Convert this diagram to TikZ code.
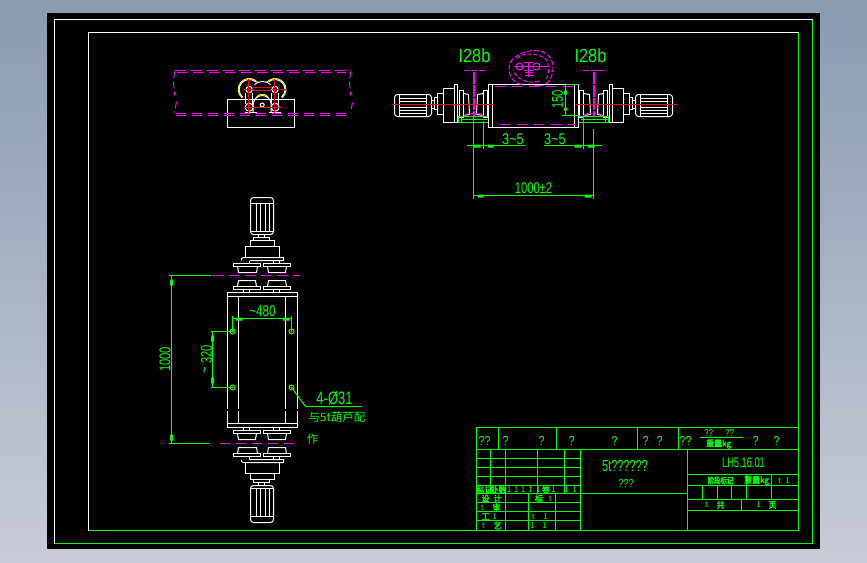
\documentclass[tikz,border=0pt]{standalone}
\usepackage{fontspec}
\setmainfont{Liberation Sans}
\newfontfamily\cjk{Noto Sans CJK SC}
\newfontfamily\cjkb[FakeBold=2.5]{Noto Sans CJK SC}
\definecolor{cadgreen}{RGB}{0,255,0}
\definecolor{cadmag}{RGB}{255,0,255}
\definecolor{cadbg}{RGB}{138,155,176}
\definecolor{cadbgb}{RGB}{200,204,216}
\tikzset{
  wl/.style={draw=white,line width=1pt},
  gl/.style={draw=cadgreen,line width=1pt},
  ml/.style={draw=cadmag,line width=1pt},
  md/.style={draw=cadmag,line width=1pt,dash pattern=on 10pt off 6pt},
  rl/.style={draw=red,line width=1pt},
  yl/.style={draw=yellow,line width=1pt},
  dimbar/.style={fill=cadgreen,draw=none},
  dimtext/.style={text=cadgreen,inner sep=0pt,font=\fontsize{15.5}{15.5}\selectfont,xscale=.72},
  tbtext/.style={text=cadgreen,inner sep=0pt,font=\fontsize{13}{13}\selectfont,xscale=.8},
  tiny/.style={text=cadgreen,inner sep=0pt,font=\cjkb\fontsize{8.5}{9}\selectfont,xscale=.95},
  pale/.style={text=cadgreen,inner sep=0pt,font=\cjk\fontsize{8}{9}\selectfont},
}
\newcommand{\motorplan}{%
  \draw[wl,rounded corners=3pt] (250,197) rectangle (273,234);
  \draw[wl] (250,203) -- (273,203) (250,231) -- (273,231);
  \foreach \xx in {256,260,265,269} \draw[wl] (\xx,203) -- (\xx,231);
  \draw[wl] (258,234) rectangle (264,237);
  \draw[wl] (253,237) rectangle (269,240);
  \draw[wl] (250,240) rectangle (274,246);
  \draw[wl] (245,246) rectangle (279,257);
  \draw[wl] (241,260) -- (241,258) -- (243,257) -- (283,257) -- (283,260) -- (249,260);
  \draw[wl] (249,260) -- (249,263) (273,260) -- (273,263) (279,260) -- (279,263);
  \draw[wl] (233,263) rectangle (260,266);
  \draw[wl] (263,263) rectangle (290,266);
  \draw[wl] (237,266) -- (238,272) -- (256,272) -- (257,266);
  \draw[wl] (267,266) -- (268,272) -- (285,272) -- (286,266);
  \draw[wl] (237,286) -- (238,280) -- (255,280) -- (256,286);
  \draw[wl] (267,286) -- (268,280) -- (285,280) -- (286,286);
  \draw[wl] (233,286) rectangle (260,289);
  \draw[wl] (263,286) rectangle (290,289);
  \draw[wl] (243,289) -- (243,292) (249,289) -- (249,292) (273,289) -- (273,292) (279,289) -- (279,292);
}
\newcommand{\sideunit}{%
  \draw[wl,rounded corners=3pt] (394,94) rectangle (431,116);
  \draw[wl] (399,94) -- (399,116) (426,94) -- (426,116);
  \foreach \yy in {98,101,104,107,110,113} \draw[wl] (399,\yy) -- (426,\yy);
  \draw[wl] (431,100) rectangle (434,108);
  \draw[wl] (434,97) rectangle (437,109);
  \draw[wl] (437,93) rectangle (443,114);
  \draw[wl] (443,88) rectangle (454,122);
  \draw[wl] (454,84) rectangle (457,122);
  \draw[wl] (459,90) rectangle (463,117);
  \draw[wl] (463,93) -- (468,94) -- (469,114) -- (463,115);
  \draw[wl] (483,93) -- (477,94) -- (476,114) -- (483,115);
  \draw[wl] (483,90) rectangle (487,117);
  \draw[ml,line width=2pt,dash pattern=on 12pt off 1pt] (473,71) -- (473,115);
  \draw[ml,dash pattern=on 6pt off 1pt on 6pt off 2pt] (463,70) -- (484,70);
  \draw[ml,dash pattern=on 3pt off 1pt] (463,116) -- (468,113) -- (479,113) -- (484,116) -- cycle;
  \draw[gl] (458,116) rectangle (488,122);
  \draw[gl] (460,119) -- (486,119);
  \draw[gl] (461,116) -- (461,122);
}
\begin{document}
\begin{tikzpicture}[x=1pt,y=-1pt]
\useasboundingbox (0,0) rectangle (867,562);
\shade[top color=cadbg,bottom color=cadbgb] (0,0) rectangle (867,562);
\fill[black] (47,13) rectangle (820,549);
\begin{scope}[shift={(.5,.5)}]
% sheet frames
\draw[wl] (54,543) -- (54,19) -- (812,19);
\draw[gl] (812,19) -- (812,543) -- (54,543);
\draw[wl] (88,530) -- (88,32) -- (798,32);
\draw[gl] (798,32) -- (798,530) -- (88,530);

% ---------- top-left end view ----------
\draw[wl] (227,99) rectangle (294,127);
\draw[md] (174,70) -- (345,70);
\draw[md] (176,72) -- (345,72);
\draw[md] (175,113) -- (345,113);
\draw[md] (175,115) -- (345,115);
\draw[ml,dash pattern=on 7pt off 3pt] (174,71) -- (173,82) -- (174,95);
\draw[ml,dash pattern=on 7pt off 3pt] (176,101) -- (174,112);
\draw[ml,dash pattern=on 7pt off 3pt] (350,71) -- (349,82) -- (350,95);
\draw[ml,dash pattern=on 7pt off 3pt] (352,102) -- (350,112);
% wheels
\draw[yl] (248.7,89) ++(130:11) arc (130:320:11);
\draw[wl] (248.7,89) ++(130:10) arc (130:310:10);
\draw[yl] (274.5,89) ++(50:11) arc (50:-140:11);
\draw[wl] (274.5,89) ++(50:10) arc (50:-130:10);
\draw[wl] (254,84) .. controls (258,80) and (266,80) .. (270,84);
\draw[wl] (248.7,89) circle (3.2);
\draw[wl] (274.5,89) circle (3.2);
\draw[wl] (245,92) -- (245,103) (252,92) -- (252,103) (271,92) -- (271,103) (278,92) -- (278,103);
\draw[wl] (248.7,106.7) circle (4);
\draw[wl] (274.7,106.7) circle (4);
\draw[wl] (244,112) -- (256,112) (268,112) -- (280,112);
\draw[wl] (252.7,112) -- (252.7,104) arc (180:360:9) -- (270.7,112);
\draw[yl] (256,96.5) arc (220:320:7.5);
\draw[wl] (261.7,104.5) circle (2);
\draw[rl] (248,78) -- (248,113) (274,78) -- (274,113);
\draw[rl] (243,89) -- (252,89) (271,89) -- (285,89) (252,87) -- (271,87) (252,90) -- (271,90) (243,107) -- (280,107);
\fill[red] (248,89) circle (1.6) (274,89) circle (1.6);

% ---------- top-right side view ----------
\sideunit
\begin{scope}[shift={(1066,0)},xscale=-1]
  \sideunit
\end{scope}
\draw[wl] (488,84) rectangle (578,127);
\draw[wl] (492,84) -- (492,127) (574,84) -- (574,127);
\draw[ml,dash pattern=on 10pt off 7pt] (494,86) -- (575,86);
\draw[ml,dash pattern=on 10pt off 7pt] (499,124) -- (574,124);
\draw[rl] (391,104) -- (492,104) (575,104) -- (676,104);
% section sketch on top of the box
\draw[ml,dash pattern=on 5pt off 2pt] (521,84) .. controls (505,80) and (505,60) .. (517,55) .. controls (530,47) and (548,48) .. (552,62) .. controls (554,72) and (550,80) .. (545,84);
\draw[ml,dash pattern=on 4pt off 2pt] (516,58) .. controls (522,52) and (535,52) .. (545,58) .. controls (549,64) and (549,72) .. (546,78);
\draw[ml,dash pattern=on 4pt off 2pt] (514,72) .. controls (518,80) and (530,84) .. (540,80);
\draw[ml] (519,66) circle (3.5) (536,66) circle (3.5);
\draw[ml] (513,66) -- (548,66);
\draw[ml] (523,62) -- (532,62) (523,70) -- (532,70) (528,62) -- (528,76) (524,72) -- (532,72) (524,75) -- (532,75);
\draw[ml] (533,85) -- (542,85);
% dimensions, side view
\draw[gl] (473,116) -- (473,198);
\draw[gl,line width=1.8pt] (483,120) -- (483,148);
\draw[gl] (593,128) -- (593,198);
\draw[gl] (583,115) -- (583,148);
\draw[gl] (466,145) -- (524,145);
\draw[gl] (543,145) -- (601,145);
\fill[dimbar] (473,144) rectangle (480,147) (487,144) rectangle (493,147) (574,144) rectangle (581,147) (587,144) rectangle (594,147);
\draw[gl] (473,195) -- (593,195);
\fill[dimbar] (477,194) rectangle (483,197) (584,194) rectangle (591,197);
\node[dimtext,xscale=1.14] (t35a) at (512.5,138.5) {3\textasciitilde5};
\node[dimtext,xscale=1.14] (t35b) at (554.5,138.5) {3\textasciitilde5};
\node[dimtext] (t1000) at (533,188) {1000±2};
\node[dimtext,font=\fontsize{19}{19}\selectfont,xscale=1.19] (tia) at (474,55) {I28b};
\node[dimtext,font=\fontsize{19}{19}\selectfont,xscale=1.19] (tib) at (590,55) {I28b};
\draw[gl] (565,84) -- (578,84);
\draw[gl] (561,115) -- (578,115);
\draw[gl] (565,84) -- (565,115);
\fill[dimbar] (563.5,90) rectangle (566.5,94) (563.5,107) rectangle (566.5,110);
\node[rotate=90,dimtext] (t150) at (557,99) {150};

% ---------- lower-left plan view ----------
\motorplan
\begin{scope}[shift={(0,719)},yscale=-1]
  \motorplan
\end{scope}
\draw[wl] (227,408) -- (227,292) -- (297,292) -- (297,408);
\draw[wl] (227,296) -- (297,296);
\draw[wl] (238,296) -- (238,408) (285,296) -- (285,408);
\draw[wl] (227,410) -- (227,427) -- (297,427) -- (297,410);
\draw[wl] (227,423) -- (297,423);
\draw[wl] (238,410) -- (238,423) (285,410) -- (285,423);
\draw[ml,dash pattern=on 10pt off 6pt] (212,275) -- (299,275);
\draw[ml,dash pattern=on 10pt off 6pt] (219,443) -- (294,443);
% holes
\foreach \hx/\hy in {232/331,291/331,232/387,291/387}{
  \draw[gl] (\hx,\hy) circle (2.5);
  \draw[rl,line width=.8pt] (\hx-1.8,\hy) -- (\hx+1.8,\hy) (\hx,\hy-1.8) -- (\hx,\hy+1.8);
}
% dimensions, plan view
\draw[gl] (168,275) -- (210,275);
\draw[gl] (168,443) -- (208,443);
\draw[gl] (171,275) -- (171,443);
\fill[dimbar] (169.5,279) rectangle (172.5,285) (169.5,434) rectangle (172.5,440);
\node[rotate=90,dimtext] (t1000v) at (164.5,359) {1000};
\draw[gl] (210,331) -- (232,331) (210,387) -- (232,387);
\draw[gl] (212,331) -- (212,387);
\fill[dimbar] (210.5,335) rectangle (213.5,341) (210.5,377) rectangle (213.5,383);
\node[rotate=90,dimtext] (t320) at (206,354) {320};
\node[rotate=90,dimtext] (tt) at (206,369.5) {\textasciitilde};
\draw[gl] (232,315) -- (232,331) (291,315) -- (291,331);
\draw[gl] (232,318) -- (291,318);
\fill[dimbar] (235,317) rectangle (242,320) (282,317) rectangle (289,320);
\node[dimtext,xscale=1.05] (t480) at (262,311) {\textasciitilde480};
\coordinate (hole) at (291,387);
\coordinate (lk) at (305,406);
\coordinate (le) at (361,406);
\draw[gl] (hole) -- (lk) -- (le);
\node[dimtext,font=\fontsize{18}{18}\selectfont,xscale=1] (t4) at (334,398) {4-Ø31};
\node[text=cadgreen,inner sep=0pt,font=\cjk\fontsize{11.5}{12}\selectfont] (tfor) at (336.5,417) {与5t葫芦配};
\node[text=cadgreen,inner sep=0pt,font=\cjk\fontsize{11.5}{12}\selectfont] (tzuo) at (312,439) {作};

% ---------- title block ----------
\draw[gl] (476,530) -- (476,427) -- (798,427);
\draw[gl] (476,449) -- (798,449);
\foreach \xx in {498,556,637,678} \draw[gl] (\xx,427) -- (\xx,449);
\foreach \yy in {458,467,476,485,502,511,520} \draw[gl] (476,\yy) -- (580,\yy);
\draw[gl] (476,493) -- (687,493);
\draw[gl] (490,449) -- (490,493);
\draw[gl] (505,449) -- (505,530);
\draw[gl] (537,449) -- (537,493);
\draw[gl] (564,449) -- (564,493);
\draw[gl] (528,493) -- (528,530) (555,493) -- (555,530);
\draw[gl] (580,449) -- (580,530);
\draw[gl] (687,449) -- (687,530);
\foreach \yy in {474,485,499,510} \draw[gl] (687,\yy) -- (798,\yy);
\foreach \xx in {702,717,731} \draw[gl] (\xx,485) -- (\xx,499);
\foreach \xx in {746,771} \draw[gl] (\xx,474) -- (\xx,499);
\draw[gl] (741,499) -- (741,510);
\draw[gl] (699,437) -- (742,437);
\foreach \xx/\tt [count=\ii] in {484/??,505/?,541/?,571/?,614/?,645/?,659/?,685/??,755/?,776/?}
  \node[tbtext] (h\ii) at (\xx,440) {\tt};
\node[tbtext,font=\fontsize{10}{10}\selectfont] (h11) at (708,433) {??};
\node[tbtext,font=\fontsize{10}{10}\selectfont] (h12) at (729,433) {??};
\node[tiny] (h13) at (718,443.5) {重量kg};
\node[dimtext,font=\fontsize{16}{16}\selectfont,xscale=.95] (title) at (624.5,465) {5t??????};
\node[tbtext,font=\fontsize{11.5}{11.5}\selectfont] (sub) at (625.5,482.5) {???};
\node[dimtext,font=\fontsize{14}{14}\selectfont,xscale=.92] (code) at (743,462) {LH5.16.01};
\node[tiny,xscale=.8] (r1) at (720,480) {阶段标记};
\node[tiny] (r2) at (756,480) {重量kg};
\node[pale] (r3a) at (779,480) {t};
\node[pale] (r3b) at (787,480) {1};
\node[pale] (r4a) at (706,504.5) {t};
\node[tiny] (r4b) at (720,504.5) {共};
\node[pale] (r5a) at (758,504.5) {1};
\node[tiny] (r5b) at (772,504.5) {页};
% left rows
\node[tiny] (l1) at (484,489.5) {标记};
\node[tiny] (l2) at (498,489.5) {处数};
\foreach \xx [count=\ii] in {508.5,515.5,522.5,530,538,553,566,574}
  \node[pale] (la\ii) at (\xx,489.5) {1};
\node[tiny] (l3) at (545.5,489.5) {签};
\node[tiny] (l4) at (485,498) {设};
\node[tiny] (l5) at (497,498) {计};
\node[tiny] (l6) at (538.5,498) {标};
\node[pale] (l7) at (550,498) {t};
\node[pale] (l8) at (482,507) {t};
\node[tiny] (l9) at (496,507) {审};
\node[tiny] (l10) at (485,516) {工};
\node[pale] (l11) at (494,516) {1};
\node[pale] (l12) at (533,516) {t};
\node[pale] (l13) at (545,516) {1};
\node[pale] (l14) at (483,525) {t};
\node[tiny] (l15) at (497,525) {艺};
\node[pale] (l16) at (532,525) {1};
\node[pale] (l17) at (544,525) {1};
\end{scope}
\end{tikzpicture}
\end{document}
